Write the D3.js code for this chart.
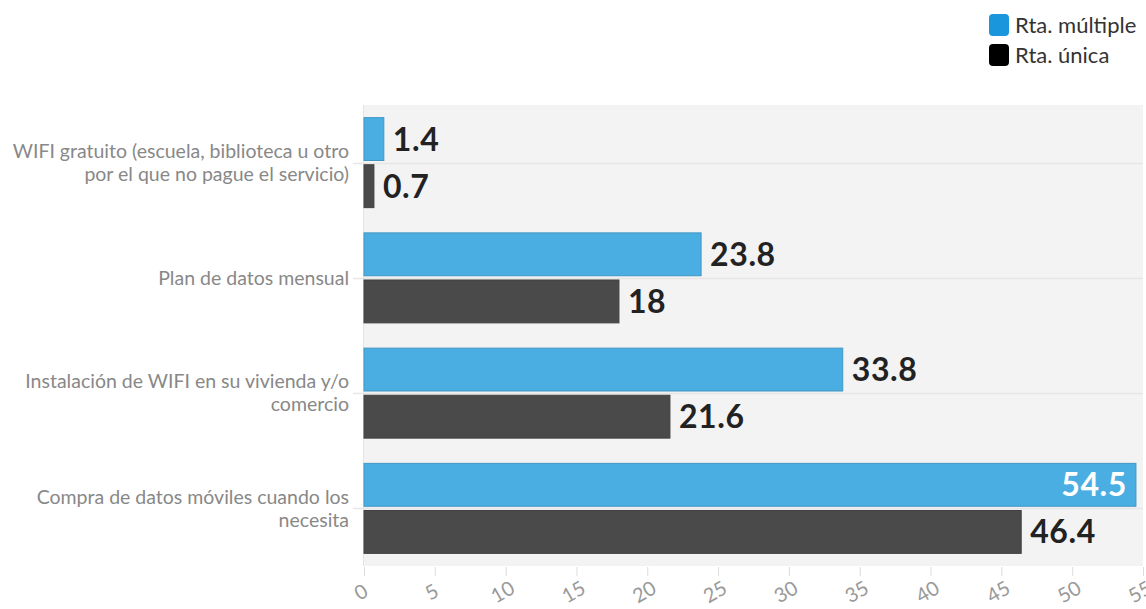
<!DOCTYPE html>
<html>
<head>
<meta charset="utf-8">
<script src="https://cdn.jsdelivr.net/npm/d3@7"></script>
<style>
  body { margin: 0; background: #fff; }
  svg text { font-family: "Source Sans Pro", Lato, "Open Sans", sans-serif; }
</style>
</head>
<body>
<svg id="chart" width="1146" height="609"></svg>
<script>
// categories, top to bottom
var categories = [
  "WIFI gratuito (escuela, biblioteca u otro|por el que no pague el servicio)",
  "Plan de datos mensual",
  "Instalación de WIFI en su vivienda y/o|comercio",
  "Compra de datos móviles cuando los|necesita"
];
var seriesNames = ["Rta. múltiple", "Rta. única"];
var multipleValues = [1.4, 23.8, 33.8, 54.5];
var unicaValues = [0.7, 18, 21.6, 46.4];
var xTicks = [0, 5, 10, 15, 20, 25, 30, 35, 40, 45, 50, 55];
var colors = ["#4aaee2", "#4a4a4a"];
var legendColors = ["#1a96dc", "#000"];

(function() {
  var svg = d3.select("#chart");
  var plotLeft = 364, plotRight = 1143, plotTop = 105, plotBottom = 566;

  var x = d3.scaleLinear().domain([0, 55]).range([plotLeft, plotRight]);
  var y = d3.scaleBand().domain(d3.range(categories.length)).range([plotTop, plotBottom]).padding(0);
  var inner = d3.scaleBand().domain([0, 1]).range([-45, 45]).paddingInner(0.09);

  // panel background
  svg.append("rect")
      .attr("x", plotLeft - 1).attr("y", plotTop)
      .attr("width", plotRight - plotLeft + 1).attr("height", plotBottom - plotTop)
      .attr("fill", "#f3f3f3");
  svg.append("line")
      .attr("x1", plotLeft - 0.5).attr("x2", plotLeft - 0.5)
      .attr("y1", plotTop).attr("y2", plotBottom)
      .attr("stroke", "#e4e4e4");

  // category gridlines + ticks
  categories.forEach(function(c, i) {
    var cy = Math.round(y(i) + y.bandwidth() / 2) + 0.5;
    svg.append("line")
        .attr("x1", plotLeft - 11).attr("x2", plotRight)
        .attr("y1", cy).attr("y2", cy)
        .attr("stroke", "#e6e6e6").attr("stroke-width", 1.5);
  });

  // bars
  var groups = svg.selectAll("g.cat")
      .data(categories)
      .enter().append("g")
      .attr("class", "cat")
      .attr("transform", function(d, i) { return "translate(0," + (y(i) + y.bandwidth() / 2) + ")"; });

  groups.each(function(d, i) {
    var g = d3.select(this);
    var vals = [multipleValues[i], unicaValues[i]];
    vals.forEach(function(v, s) {
      g.append("rect")
          .attr("x", x(0))
          .attr("y", inner(s))
          .attr("width", x(v) - x(0))
          .attr("height", inner.bandwidth())
          .attr("fill", colors[s])
          .attr("stroke", d3.color(colors[s]).darker(0.4))
          .attr("stroke-width", 1);

      var insideLabel = x(v) + 80 > 1146;
      g.append("text")
          .attr("x", insideLabel ? x(v) - 9 : x(v) + 9)
          .attr("y", inner(s) + inner.bandwidth() / 2)
          .attr("dy", "0.36em")
          .attr("text-anchor", insideLabel ? "end" : "start")
          .attr("font-size", 32)
          .attr("font-weight", "bold")
          .attr("letter-spacing", 0.6)
          .attr("fill", insideLabel ? "#fff" : "#222")
          .text(v);
    });

    // category label, split into lines
    var lines = d.split("|");
    var t = g.append("text")
        .attr("text-anchor", "end")
        .attr("font-size", 19.5)
        .attr("fill", "#888");
    lines.forEach(function(line, k) {
      t.append("tspan")
          .attr("x", 349)
          .attr("y", (k - (lines.length - 1) / 2) * 23)
          .attr("dy", "0.35em")
          .text(line);
    });
  });

  // x axis
  var xAxis = d3.axisBottom(x).tickValues(xTicks).tickSize(9).tickPadding(2);
  var ax = svg.append("g")
      .attr("transform", "translate(0," + (plotBottom + 1) + ")")
      .call(xAxis);
  ax.select(".domain").remove();
  ax.selectAll(".tick line").attr("stroke", "#dcdcdc");
  ax.selectAll(".tick text")
      .attr("font-size", 20)
      .attr("fill", "#999")
      .attr("text-anchor", "middle")
      .attr("y", 0).attr("dy", 0)
      .attr("transform", "translate(0,31) rotate(-30)");

  // legend
  var legend = svg.append("g").attr("transform", "translate(989,14)");
  seriesNames.forEach(function(name, i) {
    legend.append("rect")
        .attr("x", 0).attr("y", i * 30)
        .attr("width", 20).attr("height", 22)
        .attr("rx", 4)
        .attr("fill", legendColors[i]);
    legend.append("text")
        .attr("x", 26).attr("y", i * 30 + 11)
        .attr("dy", "0.35em")
        .attr("font-size", 22)
        .attr("fill", "#333")
        .text(name);
  });
})();
</script>
</body>
</html>
